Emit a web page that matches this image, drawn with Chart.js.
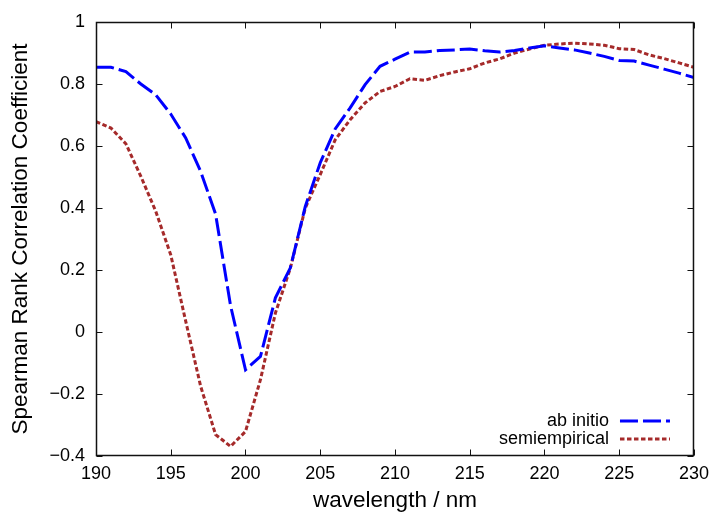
<!DOCTYPE html>
<html><head><meta charset="utf-8">
<script src="https://cdn.jsdelivr.net/npm/chart.js@4.4.1/dist/chart.umd.min.js"></script>
<style>html,body{margin:0;padding:0;background:#fff}#w{width:716px;height:514px}</style>
</head><body><div id="w"><canvas id="c"></canvas></div>
<script>
const wavelengths = [190,191,192,193,194,195,196,197,198,199,200,201,202,203,204,205,206,207,208,209,210,211,212,213,214,215,216,217,218,219,220,221,222,223,224,225,226,227,228,229,230];
const abInitio = [0.854,0.854,0.840,0.800,0.765,0.703,0.626,0.518,0.380,0.085,-0.122,-0.079,0.110,0.207,0.405,0.546,0.655,0.723,0.798,0.857,0.880,0.903,0.903,0.908,0.910,0.913,0.907,0.903,0.908,0.916,0.923,0.916,0.910,0.900,0.889,0.876,0.874,0.861,0.848,0.835,0.821];
const semiempirical = [0.679,0.658,0.607,0.502,0.389,0.249,0.035,-0.175,-0.331,-0.369,-0.321,-0.154,0.061,0.206,0.400,0.508,0.620,0.685,0.739,0.776,0.792,0.817,0.812,0.827,0.839,0.849,0.868,0.881,0.900,0.913,0.925,0.929,0.932,0.929,0.925,0.914,0.911,0.894,0.882,0.868,0.854];
const seriesNames = ["ab initio","semiempirical"];
const xTicks = [190,195,200,205,210,215,220,225,230];
const yTicks = [-0.4,-0.2,0,0.2,0.4,0.6,0.8,1];
const FONT = "'Liberation Sans', Arial, sans-serif";

function pts(ys){ return wavelengths.map((x,i)=>({x:x,y:ys[i]})); }

const framePlugin = {
  id:'frame',
  afterDatasetsDraw(chart){
    const ctx = chart.ctx, a = chart.chartArea;
    const xs = chart.scales.x, ys = chart.scales.y;
    ctx.save();
    ctx.strokeStyle = '#111'; ctx.lineWidth = 1.5;
    ctx.beginPath();
    const L=a.left+0.5, R=a.right-0.5, T=a.top+0.5, B=a.bottom-0.5;
    ctx.moveTo(L,T); ctx.lineTo(R,T); ctx.lineTo(R,B); ctx.lineTo(L,B); ctx.closePath();
    ctx.stroke();
    ctx.lineWidth = 1;
    ctx.beginPath();
    const tl = 6;
    xTicks.forEach(v=>{ const p=Math.round(xs.getPixelForValue(v))+0.5;
      ctx.moveTo(p,B); ctx.lineTo(p,B-tl); ctx.moveTo(p,T); ctx.lineTo(p,T+tl); });
    yTicks.forEach(v=>{ const p=Math.round(ys.getPixelForValue(v))+0.5;
      ctx.moveTo(L,p); ctx.lineTo(L+tl,p); ctx.moveTo(R,p); ctx.lineTo(R-tl,p); });
    ctx.stroke();
    // legend
    ctx.font = '18px ' + FONT;
    ctx.textAlign = 'right'; ctx.textBaseline = 'middle';
    chart.data.datasets.forEach((ds,i)=>{
      const y = a.bottom - 35 + i*18;
      ctx.fillStyle = '#000';
      ctx.fillText(ds.label, a.right - 85, y);
      ctx.strokeStyle = ds.borderColor; ctx.lineWidth = 3;
      ctx.setLineDash(ds.borderDash);
      ctx.beginPath(); ctx.moveTo(a.right-74, y); ctx.lineTo(a.right-24, y); ctx.stroke();
    });
    ctx.restore();
  }
};

new Chart(document.getElementById('c'), {
  type:'line',
  data:{datasets:[
    {label:seriesNames[0], data:pts(abInitio), borderColor:'#0000ff', borderWidth:3, borderDash:[18,5], pointRadius:0, fill:false, tension:0},
    {label:seriesNames[1], data:pts(semiempirical), borderColor:'#a52a2a', borderWidth:3, borderDash:[4.5,2.5], pointRadius:0, fill:false, tension:0}
  ]},
  options:{
    responsive:true, maintainAspectRatio:false, animation:false,
    layout:{padding:{top:22,right:19,left:0,bottom:0}},
    plugins:{legend:{display:false}, tooltip:{enabled:false}},
    scales:{
      x:{type:'linear', min:190, max:230,
        afterBuildTicks(s){ s.ticks = xTicks.map(v=>({value:v})); },
        afterFit(s){ s.height = 58; },
        grid:{display:false, drawTicks:false}, border:{display:false},
        ticks:{color:'#000', font:{family:FONT,size:18}, padding:7, maxRotation:0, callback:v=>String(v)},
        title:{display:true, text:'wavelength / nm', color:'#000', font:{family:FONT,size:22.5}, padding:{top:0,bottom:0}}
      },
      y:{type:'linear', min:-0.4, max:1,
        afterBuildTicks(s){ s.ticks = yTicks.map(v=>({value:v})); },
        afterFit(s){ s.width = 96; },
        grid:{display:false, drawTicks:false}, border:{display:false},
        ticks:{color:'#000', font:{family:FONT,size:18}, padding:11,
          callback:v=>{ const r=Math.round(v*10)/10; return r<0 ? '\u2212'+String(-r) : String(r); }},
        title:{display:true, text:'Spearman Rank Correlation Coefficient', color:'#000', font:{family:FONT,size:22.5}, padding:{top:7,bottom:0}}
      }
    }
  },
  plugins:[framePlugin]
});
</script></body></html>
